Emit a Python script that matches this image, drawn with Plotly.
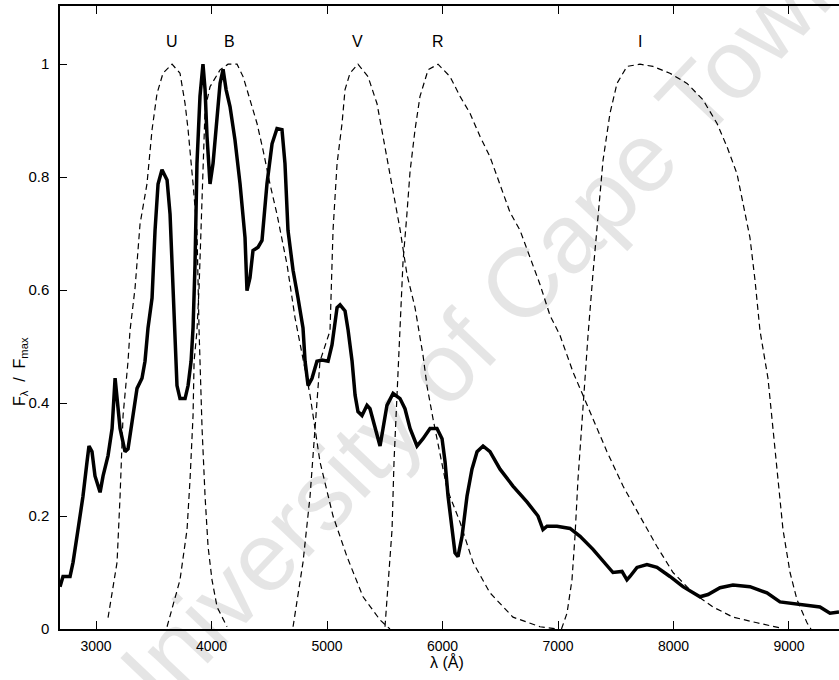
import plotly.graph_objects as go

# ---- data ----
spec_x = [2688, 2714, 2775, 2801, 2844, 2887, 2922, 2939, 2965, 2991, 3035, 3061, 3104, 3139, 3165,
          3182, 3208, 3251, 3277, 3312, 3355, 3398, 3424, 3450, 3485, 3511, 3537, 3571, 3615, 3641,
          3667, 3680, 3701, 3727, 3771, 3797, 3823, 3840, 3857, 3874, 3900, 3926, 3944, 3961, 3987,
          4013, 4039, 4074, 4100, 4126, 4160, 4203, 4247, 4290, 4307, 4333, 4359, 4403, 4437, 4480,
          4524, 4567, 4610, 4636, 4662, 4706, 4749, 4792, 4810, 4836, 4870, 4913, 4957, 5009, 5043,
          5087, 5113, 5156, 5182, 5217, 5243, 5268, 5303, 5346, 5372, 5415, 5459, 5485, 5519, 5572,
          5632, 5675, 5719, 5779, 5831, 5892, 5952, 5996, 6022, 6048, 6082, 6108, 6134, 6169, 6212,
          6255, 6299, 6351, 6411, 6498, 6610, 6731, 6827, 6870, 6905, 6991, 7104, 7191, 7303, 7424,
          7476, 7554, 7597, 7623, 7684, 7770, 7857, 7969, 8082, 8229, 8299, 8403, 8515, 8662, 8809,
          8922, 9095, 9268, 9355, 9433]
spec_y = [0.075, 0.093, 0.093, 0.118, 0.176, 0.235, 0.296, 0.324, 0.314, 0.271, 0.242, 0.271, 0.307, 0.355, 0.444,
          0.414, 0.355, 0.314, 0.319, 0.367, 0.426, 0.444, 0.474, 0.533, 0.586, 0.706, 0.788, 0.813, 0.795, 0.734,
          0.600, 0.500, 0.431, 0.408, 0.408, 0.431, 0.474, 0.533, 0.645, 0.824, 0.943, 1.000, 0.955, 0.872, 0.788,
          0.824, 0.884, 0.966, 0.991, 0.955, 0.925, 0.866, 0.788, 0.693, 0.599, 0.622, 0.670, 0.676, 0.688, 0.788,
          0.859, 0.886, 0.884, 0.824, 0.706, 0.635, 0.586, 0.533, 0.474, 0.431, 0.444, 0.474, 0.476, 0.474, 0.503,
          0.569, 0.574, 0.563, 0.530, 0.474, 0.414, 0.385, 0.378, 0.396, 0.390, 0.355, 0.324, 0.355, 0.396, 0.417,
          0.408, 0.390, 0.355, 0.324, 0.337, 0.355, 0.355, 0.337, 0.296, 0.235, 0.176, 0.135, 0.128, 0.164, 0.235,
          0.283, 0.314, 0.324, 0.314, 0.283, 0.253, 0.225, 0.200, 0.176, 0.182, 0.182, 0.178, 0.164, 0.141, 0.111,
          0.100, 0.102, 0.087, 0.093, 0.109, 0.114, 0.109, 0.093, 0.075, 0.057, 0.061, 0.073, 0.078, 0.075, 0.064,
          0.048, 0.043, 0.039, 0.028, 0.030]

U_x = [3104, 3182, 3208, 3234, 3277, 3294, 3338, 3381, 3441, 3485, 3528, 3580, 3658, 3727, 3771, 3797,
       3840, 3874, 3892, 3918, 3944, 3970, 4004, 4048, 4134]
U_y = [0.02, 0.118, 0.235, 0.378, 0.474, 0.528, 0.604, 0.717, 0.788, 0.884, 0.948, 0.984, 1.0, 0.984, 0.93, 0.884,
       0.788, 0.706, 0.53, 0.355, 0.235, 0.146, 0.087, 0.039, 0.004]

B_x = [3615, 3727, 3788, 3814, 3840, 3849, 3874, 3892, 3944, 3987, 4074, 4143, 4221, 4273, 4333, 4394,
       4446, 4506, 4567, 4654, 4723, 4740, 4853, 4939, 5052, 5173, 5312, 5459, 5545]
B_y = [0.004, 0.087, 0.176, 0.265, 0.378, 0.474, 0.528, 0.604, 0.92, 0.96, 0.99, 1.0, 1.0, 0.978, 0.937, 0.895,
       0.848, 0.788, 0.734, 0.645, 0.551, 0.533, 0.414, 0.296, 0.2, 0.128, 0.057, 0.016, 0.0]

V_x = [4706, 4792, 4853, 4896, 4939, 5026, 5052, 5087, 5130, 5156, 5199, 5268, 5355, 5433, 5485, 5528,
       5589, 5632, 5693, 5762, 5831, 5866, 5918, 6039, 6152, 6264, 6411, 6610, 6844, 6991]
V_y = [0.004, 0.118, 0.235, 0.355, 0.474, 0.528, 0.706, 0.824, 0.895, 0.955, 0.984, 1.0, 0.978, 0.93, 0.872, 0.824,
       0.752, 0.708, 0.627, 0.569, 0.485, 0.43, 0.372, 0.248, 0.189, 0.118, 0.064, 0.021, 0.004, 0.0]

R_x = [5502, 5519, 5563, 5580, 5606, 5630, 5658, 5690, 5719, 5762, 5805, 5875, 5961, 6065, 6152, 6238,
       6325, 6411, 6498, 6584, 6671, 6757, 6844, 6931, 7017, 7130, 7217, 7303, 7424, 7563, 7710, 7857,
       7996, 8169, 8342, 8515, 8723, 8922]
R_y = [0.004, 0.057, 0.176, 0.296, 0.414, 0.53, 0.65, 0.73, 0.81, 0.884, 0.943, 0.99, 1.0, 0.978, 0.943, 0.913,
       0.872, 0.836, 0.788, 0.738, 0.706, 0.658, 0.61, 0.555, 0.52, 0.455, 0.414, 0.373, 0.314, 0.253, 0.2, 0.146,
       0.1, 0.064, 0.039, 0.021, 0.011, 0.002]

I_x = [7030, 7078, 7121, 7147, 7173, 7208, 7234, 7260, 7303, 7338, 7364, 7390, 7450, 7511, 7597, 7710,
       7822, 7969, 8117, 8255, 8377, 8463, 8550, 8602, 8662, 8706, 8749, 8818, 8861, 8905, 8948, 9009,
       9069, 9156, 9190]
I_y = [0.0, 0.028, 0.087, 0.164, 0.265, 0.37, 0.45, 0.52, 0.63, 0.706, 0.765, 0.83, 0.913, 0.966, 0.996, 1.0,
       0.996, 0.984, 0.966, 0.937, 0.895, 0.854, 0.806, 0.752, 0.693, 0.617, 0.528, 0.444, 0.355, 0.265, 0.176, 0.1,
       0.052, 0.011, 0.0]

band_names = ["U", "B", "V", "R", "I"]
band_label_x = [3658, 4152, 5260, 5961, 7710]
band_label_y = 1.04

x_ticks = [3000, 4000, 5000, 6000, 7000, 8000, 9000]
y_ticks = [0, 0.2, 0.4, 0.6, 0.8, 1]
y_tick_text = ["0", "0.2", "0.4", "0.6", "0.8", "1"]

FONT = "Liberation Sans, Arial, Helvetica, sans-serif"

fig = go.Figure()
for fx, fy in [(U_x, U_y), (B_x, B_y), (V_x, V_y), (R_x, R_y), (I_x, I_y)]:
    fig.add_trace(go.Scatter(x=fx, y=fy, mode="lines",
                             line=dict(color="black", width=1.2, dash="6px,4px"),
                             showlegend=False, hoverinfo="skip"))
fig.add_trace(go.Scatter(x=spec_x, y=spec_y, mode="lines",
                         line=dict(color="black", width=3.5),
                         showlegend=False))

annotations = []
for name, bx in zip(band_names, band_label_x):
    annotations.append(dict(x=bx, y=band_label_y, xref="x", yref="y", text=name, showarrow=False,
                            font=dict(family=FONT, size=16, color="black")))
# axis titles
annotations.append(dict(x=0, y=(629 - 372) / 623, xref="paper", yref="paper", xshift=-40,
                        xanchor="center", yanchor="middle",
                        text="F<sub>λ</sub>&nbsp; / &nbsp;F<sub>max</sub>", textangle=-90, showarrow=False,
                        font=dict(family=FONT, size=16, color="black")))
annotations.append(dict(x=0.497, y=0, xref="paper", yref="paper", yshift=-33,
                        xanchor="center", yanchor="middle",
                        text="λ (Å)", showarrow=False,
                        font=dict(family=FONT, size=16, color="black")))
# watermark
annotations.append(dict(x=(470 - 60) / 779, y=(629 - 338) / 623, xref="paper", yref="paper",
                        xanchor="center", yanchor="middle",
                        text="University of Cape Town", textangle=-46.5, showarrow=False,
                        font=dict(family=FONT, size=98, color="rgba(0,0,0,0.1)")))

fig.update_layout(
    width=839, height=680,
    margin=dict(l=60, r=0, t=6, b=51),
    paper_bgcolor="white", plot_bgcolor="white",
    annotations=annotations,
    font=dict(family=FONT, size=15, color="black"),
)
fig.update_xaxes(range=[2688, 9433], tickvals=x_ticks, ticks="inside", ticklen=8, tickwidth=1.2,
                 tickcolor="black", showline=True, linecolor="black", linewidth=1.5, mirror="ticks",
                 showgrid=False, zeroline=False, tickfont=dict(family=FONT, size=14, color="black"),
                 ticklabelstandoff=3)
fig.update_yaxes(range=[0, 1.103], tickvals=y_ticks, ticktext=y_tick_text, ticks="inside", ticklen=7,
                 tickwidth=1.2, tickcolor="black", showline=True, linecolor="black", linewidth=1.5,
                 mirror=False, showgrid=False, zeroline=False,
                 tickfont=dict(family=FONT, size=15, color="black"), ticklabelstandoff=6)

fig.write_html("out.html")
